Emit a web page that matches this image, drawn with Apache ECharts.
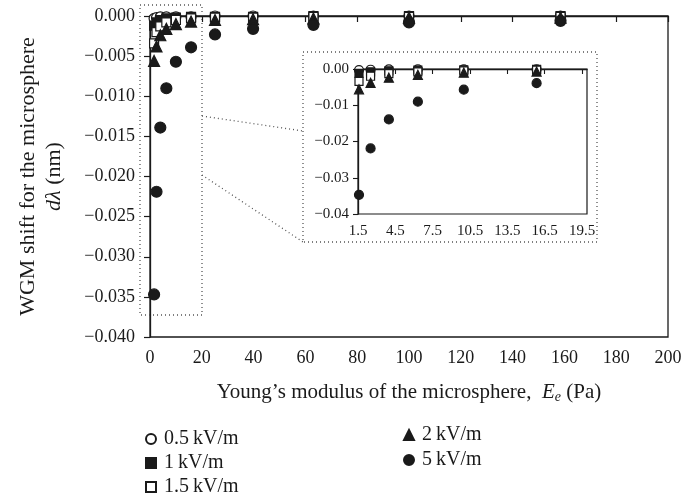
<!DOCTYPE html>
<html>
<head>
<meta charset="utf-8">
<script src="https://cdn.jsdelivr.net/npm/echarts@6/dist/echarts.min.js"></script>
<style>
  html, body { margin: 0; padding: 0; background: #fff; }
  #chart { width: 684px; height: 499px; }
</style>
</head>
<body>
<div id="chart"></div>
<script>
// Young's modulus (Pa) of each measured point
const modulus = [1.58, 2.51, 3.98, 6.31, 10, 15.85, 25.1, 39.8, 63.1, 100, 158.5];
// WGM shift dλ (nm) for each field strength
const kv05 = [-0.0003, -0.0002, -0.0001, -0.0001, -0.0001, -0.0001, 0, 0, 0, 0, 0];
const kv1  = [-0.0012, -0.0008, -0.0005, -0.0003, -0.0002, -0.0001, -0.0001, -0.0001, 0, 0, 0];
const kv15 = [-0.0034, -0.0020, -0.0013, -0.0008, -0.0005, -0.0003, -0.0002, -0.0002, -0.0001, -0.0001, -0.0001];
const kv2  = [-0.0056, -0.0038, -0.0024, -0.0016, -0.0010, -0.0007, -0.0005, -0.0004, -0.0003, -0.0002, -0.0002];
const kv5  = [-0.0347, -0.0219, -0.0139, -0.0090, -0.0057, -0.0039, -0.0023, -0.0016, -0.0011, -0.0008, -0.0006];
const seriesNames = ['0.5\u2009kV/m', '1\u2009kV/m', '1.5\u2009kV/m', '2\u2009kV/m', '5\u2009kV/m'];
const insetCount = 6; // points shown in the zoomed inset

const ink = '#1a1a1a';
const serif = '"Liberation Serif", "DejaVu Serif", serif';

function pairs(ys, n) {
    let out = [];
    for (let i = 0; i < (n || ys.length); i++) {
        out.push([modulus[i], ys[i]]);
    }
    return out;
}
function minus(v, d) {
    let s = Math.abs(v).toFixed(d);
    return v < -1e-9 ? '\u2212' + s : s;
}

// marker look per series: symbol, fill, main size, inset size
const looks = [
    { symbol: 'circle', fill: '#fff', size: 10, small: 9 },
    { symbol: 'rect', fill: ink, size: 9, small: 8 },
    { symbol: 'rect', fill: '#fff', size: 9, small: 8 },
    { symbol: 'triangle', fill: ink, size: 11, small: 9 },
    { symbol: 'circle', fill: ink, size: 11, small: 9 }
];
const values = [kv05, kv1, kv15, kv2, kv5];

let series = [];
for (let k = 0; k < values.length; k++) {
    let lk = looks[k];
    let st = { color: lk.fill, borderColor: ink, borderWidth: 1.2, opacity: 1 };
    series.push({
        name: seriesNames[k], type: 'scatter', xAxisIndex: 0, yAxisIndex: 0,
        symbol: lk.symbol, symbolSize: lk.size, itemStyle: st,
        data: pairs(values[k]), clip: false, z: 2 + k
    });
    series.push({
        name: seriesNames[k], type: 'scatter', xAxisIndex: 1, yAxisIndex: 1,
        symbol: lk.symbol, symbolSize: lk.small, itemStyle: st,
        data: pairs(values[k], insetCount), clip: false, z: 2 + k
    });
}

const axisLine = { show: true, lineStyle: { color: ink, width: 1.3 } };
const tick = { show: true, length: 6, lineStyle: { color: ink, width: 1.2 } };
const smallTick = { show: true, length: 5, lineStyle: { color: ink, width: 1.1 } };
const dotted = { stroke: '#555', lineWidth: 1.3, lineDash: [1, 3] };
const legendText = { fontSize: 20, fontFamily: serif, color: ink, lineHeight: 18, padding: [0, 0, 0, 3] };

let option = {
    animation: false,
    backgroundColor: '#fff',
    textStyle: { fontFamily: serif, color: ink },
    grid: [
        { left: 150, right: 16, top: 16, bottom: 162, show: true, borderColor: ink, borderWidth: 1.3, outerBoundsMode: 'none' },
        { left: 358, right: 97, top: 69, bottom: 285, show: true, borderColor: ink, borderWidth: 1.2, outerBoundsMode: 'none' }
    ],
    xAxis: [{
        gridIndex: 0, type: 'value', min: 0, max: 200, interval: 20,
        axisLine: axisLine, axisTick: tick, splitLine: { show: false },
        axisLabel: { fontSize: 18, fontFamily: serif, color: ink, margin: 12 },
        name: 'Young\u2019s modulus of the microsphere,  {it|E}{sub|e} (Pa)',
        nameLocation: 'middle', nameGap: 43,
        nameTextStyle: {
            fontSize: 21, fontFamily: serif, color: ink,
            rich: {
                it: { fontSize: 21, fontStyle: 'italic', fontFamily: serif, color: ink },
                sub: { fontSize: 14, fontStyle: 'italic', fontFamily: serif, color: ink, padding: [10, 0, 0, 0] }
            }
        }
    }, {
        gridIndex: 1, type: 'value', min: 1.5, max: 19.9, interval: 3,
        axisLine: axisLine, axisTick: smallTick, splitLine: { show: false },
        axisLabel: { fontSize: 15, fontFamily: serif, color: ink, margin: 10, showMaxLabel: false }
    }],
    yAxis: [{
        gridIndex: 0, type: 'value', min: -0.04, max: 0, interval: 0.005,
        axisLine: axisLine, axisTick: tick, splitLine: { show: false },
        axisLabel: { fontSize: 18, fontFamily: serif, color: ink, margin: 15, formatter: v => minus(v, 3) },
        name: 'WGM shift for the microsphere\n{it|d\u03bb} (nm)',
        nameLocation: 'middle', nameRotate: 90, nameGap: 83,
        nameTextStyle: {
            fontSize: 22, fontFamily: serif, color: ink, lineHeight: 26,
            rich: { it: { fontSize: 22, fontStyle: 'italic', fontFamily: serif, color: ink, lineHeight: 26 } }
        }
    }, {
        gridIndex: 1, type: 'value', min: -0.04, max: 0, interval: 0.01,
        axisLine: axisLine, axisTick: smallTick, splitLine: { show: false },
        axisLabel: { fontSize: 15, fontFamily: serif, color: ink, margin: 9, formatter: v => minus(v, 2) }
    }],
    legend: [{
        data: seriesNames.slice(0, 3), orient: 'vertical', left: 145, top: 429, padding: 0,
        width: 200, height: 90,
        itemWidth: 10, itemHeight: 10, itemGap: 4, textStyle: legendText
    }, {
        data: seriesNames.slice(3), orient: 'vertical', left: 403, top: 425, padding: 0,
        width: 200, height: 90,
        itemWidth: 10, itemHeight: 10, itemGap: 5, textStyle: legendText
    }],
    graphic: [
        { type: 'rect', shape: { x: 140, y: 5, width: 62, height: 310 }, style: Object.assign({ fill: null }, dotted), silent: true },
        { type: 'rect', shape: { x: 303, y: 52, width: 294, height: 190 }, style: Object.assign({ fill: null }, dotted), silent: true },
        { type: 'line', shape: { x1: 202, y1: 116, x2: 303, y2: 131 }, style: dotted, silent: true },
        { type: 'line', shape: { x1: 202, y1: 175, x2: 303, y2: 242 }, style: dotted, silent: true }
    ],
    series: series
};

let myChart = echarts.init(document.getElementById('chart'));
myChart.setOption(option);
</script>
</body>
</html>
